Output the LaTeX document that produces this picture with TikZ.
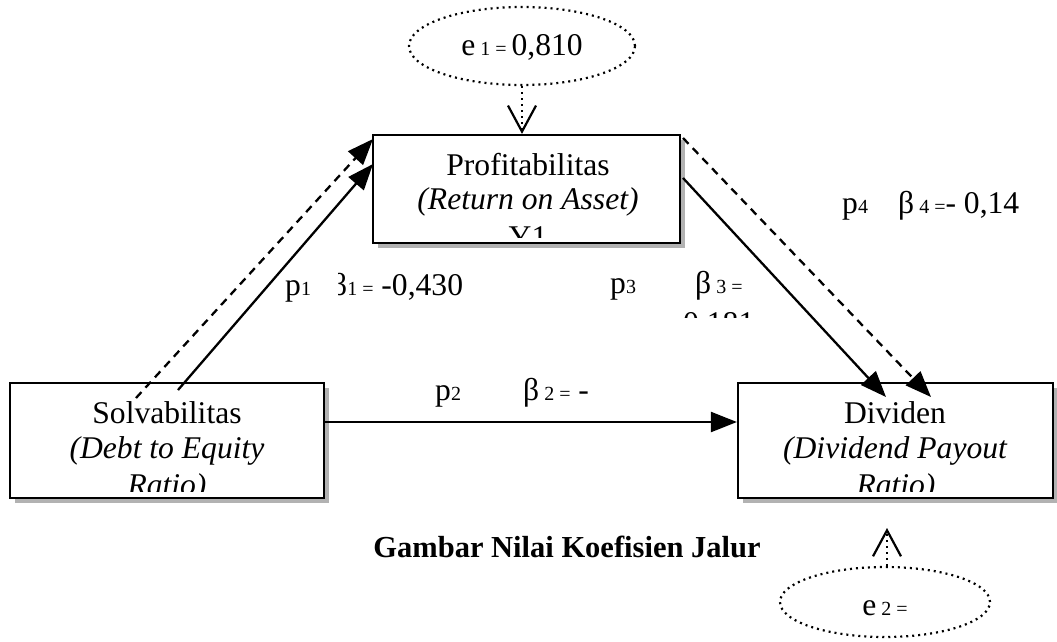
\documentclass[tikz,border=0pt]{standalone}
\usepackage{fontspec}
\setmainfont{Liberation Serif}
\usetikzlibrary{arrows.meta,shapes.geometric,shadows}
\newcommand\smx[1]{{\fontsize{20}{20}\selectfont #1}}
\begin{document}
\begin{tikzpicture}[x=1pt,y=-1pt,
  every node/.style={font=\fontsize{31.6}{36}\selectfont, inner sep=0pt},
  box/.style={draw, rectangle, line width=2.2pt, fill=white,
    general shadow={fill=black!30, shadow xshift=5pt, shadow yshift=-5pt}},
  errell/.style={draw, ellipse, line width=2.2pt, dash pattern=on 2pt off 4pt},
  conn/.style={line width=2.3pt, -{Triangle[length=26pt,width=20pt]}},
  dconn/.style={conn, dash pattern=on 8pt off 6pt},
  dotconn/.style={line width=2.2pt, dash pattern=on 2pt off 4pt, -{Straight Barb[length=26pt,width=28pt]}},
  lbl/.style={anchor=base west},
  ital/.style={font=\fontsize{31.6}{36}\selectfont\itshape}
]
\useasboundingbox (0,0) rectangle (1057,641);

% boxes
\node[box, minimum width=314pt, minimum height=115pt] (solv) at (167,440.5) {};
\node[box, minimum width=307pt, minimum height=108pt] (prof) at (526.5,189) {};
\node[box, minimum width=315pt, minimum height=115pt] (div) at (895.5,440.5) {};

% box texts (clipped like text boxes)
\begin{scope}
\clip ([yshift=8pt]solv.south west) rectangle (solv.north east);
\node[anchor=base] (solvT1) at (167,423) {Solvabilitas};
\node[anchor=base, ital] (solvT2) at (167,458) {(Debt to Equity};
\node[anchor=base, ital] (solvT3) at (167,495) {Ratio)};
\end{scope}
\begin{scope}
\clip ([yshift=7pt]prof.south west) rectangle (prof.north east);
\node[anchor=base] (profT1) at (528,175) {Profitabilitas};
\node[anchor=base, ital] (profT2) at (528,209) {(Return on Asset)};
\node[anchor=base] (profT3) at (528,247) {Y1};
\end{scope}
\begin{scope}
\clip ([yshift=8pt]div.south west) rectangle (div.north east);
\node[anchor=base] (divT1) at (895,423) {Dividen};
\node[anchor=base, ital] (divT2) at (895,458) {(Dividend Payout};
\node[anchor=base, ital] (divT3) at (896,495) {Ratio)};
\end{scope}

% error ellipses
\node[errell, minimum width=226pt, minimum height=78pt, text height=22pt, text depth=4pt] (e1) at (522,46) {e\smx{ 1 = }0,810};
\node[errell, minimum width=210pt, minimum height=70pt, text height=26pt, text depth=0pt] (e2) at (885,602) {e\smx{ 2 =}};

% connector end points
\coordinate (sA) at (178,390);
\coordinate (pA) at (373,164);
\coordinate (sB) at (136,398);
\coordinate (pB) at (373,139);
\coordinate (pC) at (683,178);
\coordinate (dC) at (886,397);
\coordinate (pD) at (683,138);
\coordinate (dD) at (931,397);
\coordinate (e2tip) at (887,528);

% connectors
\draw[conn] (sA) -- (pA);
\draw[dconn] (sB) -- (pB);
\draw[conn] ([yshift=18.5pt]solv.east) -- ([yshift=18.5pt]div.west);
\draw[conn] (pC) -- (dC);
\draw[dconn] (pD) -- (dD);
\draw[dotconn] (e1.south) -- (e1.south |- prof.north);
\draw[dotconn] (e2.north -| e2tip) -- (e2tip);

% path labels
\node[lbl] (p1) at (285,295) {p\smx{1}};
\begin{scope}
\clip (338,250) rectangle (480,320);
\node[lbl] (b1) at (331,295) {β\smx{1 =} -0,430};
\end{scope}
\node[lbl] (p2) at (435,400) {p\smx{2}};
\node[lbl] (b2) at (523,400) {β\smx{ 2 =} -};
\node[lbl] (p3) at (610,293) {p\smx{3}};
\node[lbl] (b3) at (695,293) {β\smx{ 3 =}};
\begin{scope}
\clip (670,300) rectangle (770,317);
\node[lbl] (b3v) at (683,333) {0,181};
\end{scope}
\node[lbl] (p4) at (842,213) {p\smx{4}};
\node[lbl] (b4) at (898,213) {β\smx{ 4 =}- 0,14};

% caption
\node[anchor=base, font=\fontsize{30.5}{34}\selectfont\bfseries] (cap) at (567,557) {Gambar Nilai Koefisien Jalur};
\end{tikzpicture}
\end{document}
